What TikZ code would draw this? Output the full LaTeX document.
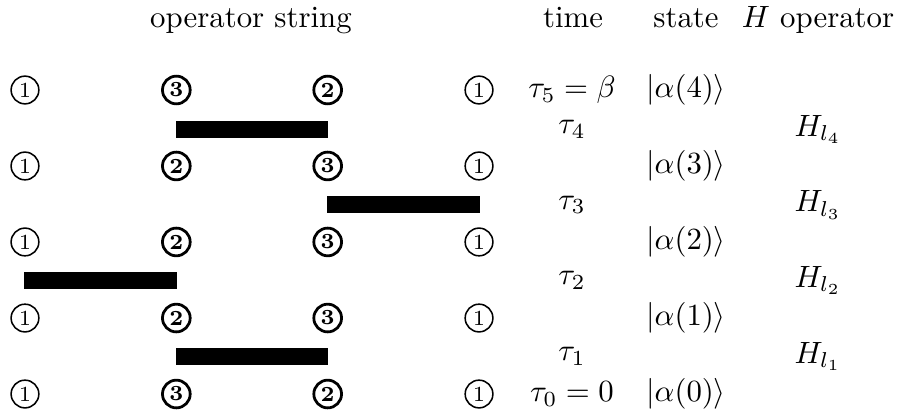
\documentclass[tikz,border=0pt]{standalone}
\usepackage{tikz}
\usetikzlibrary{positioning}

\begin{document}
\begin{tikzpicture}[
  x=1cm, y=1cm,
  site/.style={
    circle,
    draw=black,
    line width=0.5pt,
    inner sep=0pt,
    minimum size=9pt,
    font=\scriptsize
  },
  bsite/.style={
    site,
    line width=0.9pt,
    font=\scriptsize\bfseries
  },
  opbar/.style={
    rectangle,
    fill=black,
    inner sep=0pt,
    minimum width=1.74cm,
    minimum height=0.194cm
  },
  head/.style={anchor=base}
]
\useasboundingbox (0,0) rectangle (10.258,4.747);

% headers
\node[head] (hops) at (2.864, 4.428) {operator string};
\node[head] (htime) at (6.539, 4.428) {time};
\node[head] (hstate) at (7.828, 4.428) {state};
\node[head] (hop) at (9.334, 4.428) {$H$ operator};

% sites, top row is tau_5
\node[site] (s41) at (0.285, 3.720) {1};
\node[bsite] (s42) at (2.012, 3.720) {3};
\node[bsite] (s43) at (3.739, 3.720) {2};
\node[site] (s44) at (5.466, 3.720) {1};

\node[site] (s31) at (0.285, 2.853) {1};
\node[bsite] (s32) at (2.012, 2.853) {2};
\node[bsite] (s33) at (3.739, 2.853) {3};
\node[site] (s34) at (5.466, 2.853) {1};

\node[site] (s21) at (0.285, 1.986) {1};
\node[bsite] (s22) at (2.012, 1.986) {2};
\node[bsite] (s23) at (3.739, 1.986) {3};
\node[site] (s24) at (5.466, 1.986) {1};

\node[site] (s11) at (0.285, 1.118) {1};
\node[bsite] (s12) at (2.012, 1.118) {2};
\node[bsite] (s13) at (3.739, 1.118) {3};
\node[site] (s14) at (5.466, 1.118) {1};

\node[site] (s01) at (0.285, 0.251) {1};
\node[bsite] (s02) at (2.012, 0.251) {3};
\node[bsite] (s03) at (3.739, 0.251) {2};
\node[site] (s04) at (5.466, 0.251) {1};

% operators
\node[opbar] (op4) at (2.876, 3.269) {};
\node[opbar] (op3) at (4.603, 2.408) {};
\node[opbar] (op2) at (1.149, 1.546) {};
\node[opbar] (op1) at (2.876, 0.679) {};

% times
\node (t5) at (6.527, 3.720) {$\tau_5=\beta$};
\node (t4) at (6.527, 3.269) {$\tau_4$};
\node (t3) at (6.527, 2.408) {$\tau_3$};
\node (t2) at (6.527, 1.546) {$\tau_2$};
\node (t1) at (6.527, 0.679) {$\tau_1$};
\node (t0) at (6.527, 0.251) {$\tau_0=0$};

% states
\node (a4) at (7.828, 3.720) {$|\alpha(4)\rangle$};
\node (a3) at (7.828, 2.853) {$|\alpha(3)\rangle$};
\node (a2) at (7.828, 1.986) {$|\alpha(2)\rangle$};
\node (a1) at (7.828, 1.118) {$|\alpha(1)\rangle$};
\node (a0) at (7.828, 0.251) {$|\alpha(0)\rangle$};

% hamiltonian terms
\node (h4) at (9.334, 3.269) {$H_{l_4}$};
\node (h3) at (9.334, 2.408) {$H_{l_3}$};
\node (h2) at (9.334, 1.546) {$H_{l_2}$};
\node (h1) at (9.334, 0.679) {$H_{l_1}$};

\end{tikzpicture}
\end{document}
